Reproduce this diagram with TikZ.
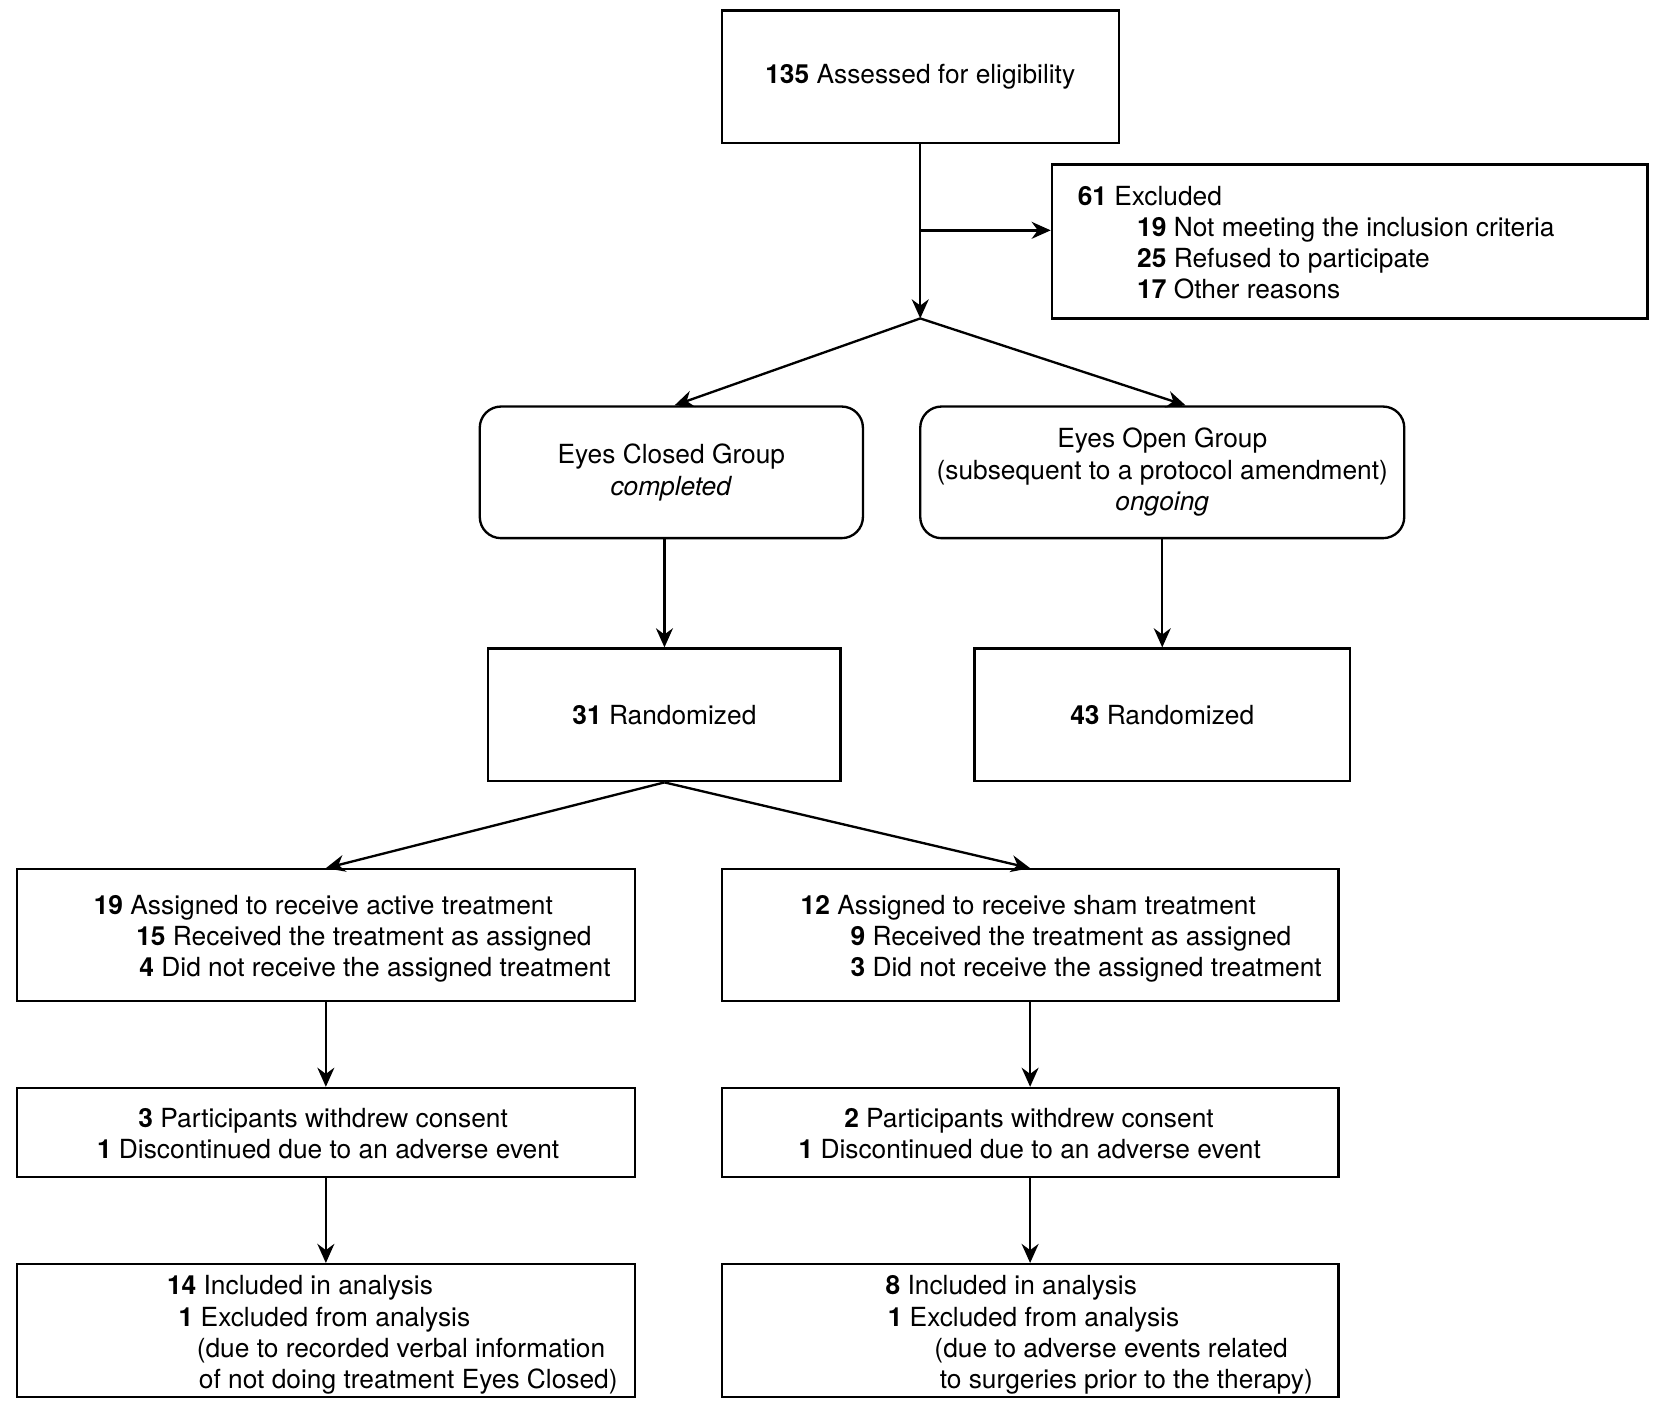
\documentclass[tikz,border=0pt]{standalone}
\usepackage{fontspec}
\setmainfont{TeX Gyre Heros}
\usetikzlibrary{arrows.meta,calc}
\begin{document}
\begin{tikzpicture}[x=0.5pt,y=-0.5pt,
  every node/.style={font=\fontsize{12.4}{14.8}\selectfont},
  box/.style={draw,line width=1.1pt,inner sep=0pt,align=center},
  rbox/.style={box,rounded corners=10pt},
  arr/.style={line width=1.1pt,-{Stealth[length=9pt,width=8pt]}},
  ln/.style={draw=none,anchor=base west,inner sep=0pt}]
\useasboundingbox (0,0) rectangle (1563,1340);
% boxes
\node[box,minimum width=187pt,minimum height=62.5pt] (A) at (867,72.5) {\textbf{135} Assessed for eligibility};
\node[box,minimum width=280.5pt,minimum height=72.5pt] (X) at (1271.5,227.5) {};
\node[rbox,minimum width=180.5pt,minimum height=62pt] (EC) at (632.5,445) {Eyes Closed Group\\\textit{completed}};
\node[rbox,minimum width=228pt,minimum height=62pt] (EO) at (1095,445) {Eyes Open Group\\(subsequent to a protocol amendment)\\\textit{ongoing}};
\node[box,minimum width=166pt,minimum height=62.5pt] (R1) at (626,673.5) {\textbf{31} Randomized};
\node[box,minimum width=177pt,minimum height=62.5pt] (R2) at (1095,673.5) {\textbf{43} Randomized};
\node[box,minimum width=291pt,minimum height=62pt] (T1) at (307,881) {};
\node[box,minimum width=290.5pt,minimum height=62pt] (T2) at (970.5,881) {};
\node[box,minimum width=291pt,minimum height=42pt] (W1) at (307,1067) {};
\node[box,minimum width=290.5pt,minimum height=42pt] (W2) at (970.5,1067) {};
\node[box,minimum width=291pt,minimum height=62.5pt] (B1) at (307,1253.5) {};
\node[box,minimum width=290.5pt,minimum height=62.5pt] (B2) at (970.5,1253.5) {};
% texts
\node[ln] (x1) at (1015,194) {\textbf{61} Excluded};
\node[ln] (x2) at (1071,223) {\textbf{19} Not meeting the inclusion criteria};
\node[ln] (x3) at (1071,252) {\textbf{25} Refused to participate};
\node[ln] (x4) at (1071,281) {\textbf{17} Other reasons};
\node[ln] (t11) at (88,862) {\textbf{19} Assigned to receive active treatment};
\node[ln] (t12) at (128,891) {\textbf{15} Received the treatment as assigned};
\node[ln] (t13) at (131,920) {\textbf{4} Did not receive the assigned treatment};
\node[ln] (t21) at (754,862) {\textbf{12} Assigned to receive sham treatment};
\node[ln] (t22) at (801,891) {\textbf{9} Received the treatment as assigned};
\node[ln] (t23) at (801,920) {\textbf{3} Did not receive the assigned treatment};
\node[ln] (w11) at (130,1062) {\textbf{3} Participants withdrew consent};
\node[ln] (w12) at (91,1091) {\textbf{1} Discontinued due to an adverse event};
\node[ln] (w21) at (795,1062) {\textbf{2} Participants withdrew consent};
\node[ln] (w22) at (752,1091) {\textbf{1} Discontinued due to an adverse event};
\node[ln] (b11) at (157,1220) {\textbf{14} Included in analysis};
\node[ln] (b12) at (168,1250) {\textbf{1} Excluded from analysis};
\node[ln] (b13) at (185,1279) {(due to recorded verbal information};
\node[ln] (b14) at (187,1308) {of not doing treatment Eyes Closed)};
\node[ln] (b21) at (834,1220) {\textbf{8} Included in analysis};
\node[ln] (b22) at (836,1250) {\textbf{1} Excluded from analysis};
\node[ln] (b23) at (880,1279) {(due to adverse events related};
\node[ln] (b24) at (885,1308) {to surgeries prior to the therapy)};
% connectors
\coordinate (split) at (867,300);
\coordinate (branch) at (867,217);
\draw[arr] (A.south) -- (split);
\draw[arr] (branch) -- (X.west |- branch);
\draw[arr] (split) -- ($(EC.north)+(3,0)$);
\draw[arr] (split) -- ($(EO.north)+(22,0)$);
\draw[arr] (EC.south -| R1.north) -- (R1.north);
\draw[arr] (EO.south) -- (R2.north);
\draw[arr] (R1.south) -- (T1.north);
\draw[arr] (R1.south) -- (T2.north);
\draw[arr] (T1.south) -- (W1.north);
\draw[arr] (T2.south) -- (W2.north);
\draw[arr] (W1.south) -- (B1.north);
\draw[arr] (W2.south) -- (B2.north);
\end{tikzpicture}
\end{document}
